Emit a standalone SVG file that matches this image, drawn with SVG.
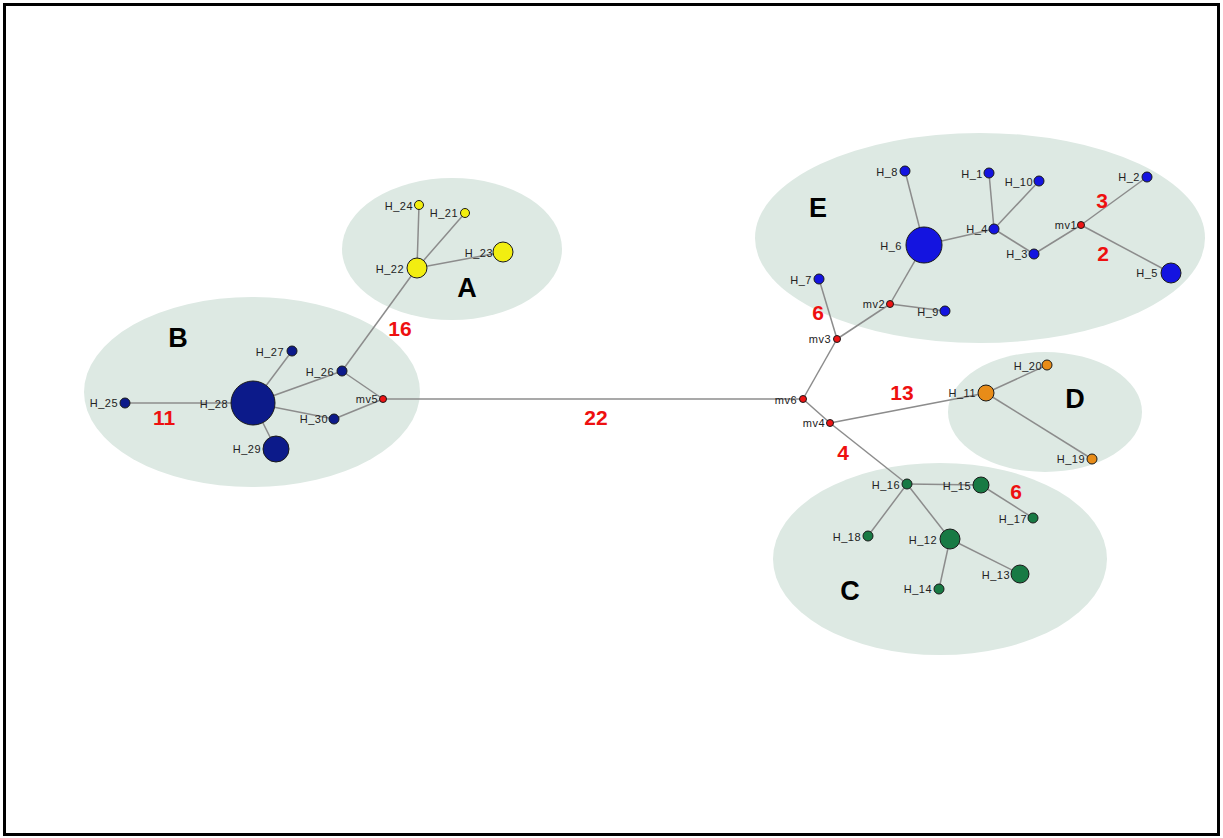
<svg xmlns="http://www.w3.org/2000/svg" width="1223" height="838" viewBox="0 0 1223 838">
<defs>
<style>
.cl{fill:#dde9e3;stroke:none}
.e{stroke:#8c8c8c;stroke-width:1.5;fill:none}
.n{stroke:#1a1a1a;stroke-width:1}
.bl{fill:#1414e0}
.nv{fill:#0c1a8a}
.ye{fill:#f2ee10}
.or{fill:#e88c18}
.gr{fill:#187a44}
.mv{fill:#ee1414}
.t{font-family:"Liberation Sans",Arial,sans-serif;font-size:11px;fill:#222;text-anchor:end;letter-spacing:0.5px}
.num{font-family:"Liberation Sans",Arial,sans-serif;font-size:21px;font-weight:bold;fill:#ee1010;text-anchor:middle}
.L{font-family:"Liberation Sans",Arial,sans-serif;font-size:27px;font-weight:bold;fill:#000;text-anchor:middle}
</style>
</defs>
<rect x="0" y="0" width="1223" height="838" fill="#fff"/>
<rect x="4.5" y="4.5" width="1214" height="830" fill="#fff" stroke="#000" stroke-width="3"/>
<g id="clusters">
<ellipse class="cl" cx="452" cy="249" rx="110" ry="71"/>
<ellipse class="cl" cx="252" cy="392" rx="168" ry="95"/>
<ellipse class="cl" cx="980" cy="238" rx="225" ry="105"/>
<ellipse class="cl" cx="1045" cy="412" rx="97" ry="60"/>
<ellipse class="cl" cx="940" cy="559" rx="167" ry="96"/>
</g>
<g id="connectors">
<line class="e" x1="125" y1="403" x2="253" y2="403"/>
<line class="e" x1="253" y1="403" x2="292" y2="351"/>
<line class="e" x1="253" y1="403" x2="342" y2="371"/>
<line class="e" x1="253" y1="403" x2="334" y2="419"/>
<line class="e" x1="253" y1="403" x2="276" y2="449"/>
<line class="e" x1="342" y1="371" x2="383" y2="399"/>
<line class="e" x1="334" y1="419" x2="383" y2="399"/>
<line class="e" x1="342" y1="371" x2="417" y2="268"/>
<line class="e" x1="417" y1="268" x2="419" y2="205"/>
<line class="e" x1="417" y1="268" x2="465" y2="213"/>
<line class="e" x1="417" y1="268" x2="503" y2="252"/>
<line class="e" x1="383" y1="399" x2="803" y2="399"/>
<line class="e" x1="803" y1="399" x2="837" y2="339"/>
<line class="e" x1="803" y1="399" x2="830" y2="423"/>
<line class="e" x1="837" y1="339" x2="819" y2="279"/>
<line class="e" x1="837" y1="339" x2="890" y2="304"/>
<line class="e" x1="890" y1="304" x2="945" y2="311"/>
<line class="e" x1="890" y1="304" x2="924" y2="245"/>
<line class="e" x1="924" y1="245" x2="905" y2="171"/>
<line class="e" x1="924" y1="245" x2="994" y2="229"/>
<line class="e" x1="994" y1="229" x2="989" y2="173"/>
<line class="e" x1="994" y1="229" x2="1039" y2="181"/>
<line class="e" x1="994" y1="229" x2="1034" y2="254"/>
<line class="e" x1="1034" y1="254" x2="1081" y2="225"/>
<line class="e" x1="1081" y1="225" x2="1147" y2="177"/>
<line class="e" x1="1081" y1="225" x2="1171" y2="273"/>
<line class="e" x1="830" y1="423" x2="986" y2="393"/>
<line class="e" x1="986" y1="393" x2="1047" y2="365"/>
<line class="e" x1="986" y1="393" x2="1092" y2="459"/>
<line class="e" x1="830" y1="423" x2="907" y2="484"/>
<line class="e" x1="907" y1="484" x2="981" y2="485"/>
<line class="e" x1="981" y1="485" x2="1033" y2="518"/>
<line class="e" x1="907" y1="484" x2="868" y2="536"/>
<line class="e" x1="907" y1="484" x2="950" y2="539"/>
<line class="e" x1="950" y1="539" x2="1020" y2="574"/>
<line class="e" x1="950" y1="539" x2="939" y2="589"/>
</g>
<g id="edge-labels">
<text class="num" x="400" y="336">16</text>
<text class="num" x="164" y="425">11</text>
<text class="num" x="596" y="425">22</text>
<text class="num" x="818" y="320">6</text>
<text class="num" x="1102" y="208">3</text>
<text class="num" x="1103" y="261">2</text>
<text class="num" x="902" y="400">13</text>
<text class="num" x="843" y="460">4</text>
<text class="num" x="1016" y="499">6</text>
</g>
<g id="cluster-labels">
<text class="L" x="467" y="297">A</text>
<text class="L" x="178" y="347">B</text>
<text class="L" x="850" y="600">C</text>
<text class="L" x="1075" y="408">D</text>
<text class="L" x="818" y="217">E</text>
</g>
<g id="H_25"><circle class="n nv" cx="125" cy="403" r="5"/><text class="t" x="118" y="407">H_25</text></g>
<g id="H_28"><circle class="n nv" cx="253" cy="403" r="22"/><text class="t" x="228" y="408">H_28</text></g>
<g id="H_29"><circle class="n nv" cx="276" cy="449" r="13"/><text class="t" x="261" y="453">H_29</text></g>
<g id="H_27"><circle class="n nv" cx="292" cy="351" r="5"/><text class="t" x="284" y="356">H_27</text></g>
<g id="H_26"><circle class="n nv" cx="342" cy="371" r="5"/><text class="t" x="334" y="376">H_26</text></g>
<g id="H_30"><circle class="n nv" cx="334" cy="419" r="5"/><text class="t" x="328" y="423">H_30</text></g>
<g id="mv5"><circle class="n mv" cx="383" cy="399" r="3.5"/><text class="t" x="378" y="403">mv5</text></g>
<g id="H_24"><circle class="n ye" cx="419" cy="205" r="4.5"/><text class="t" x="413" y="210">H_24</text></g>
<g id="H_21"><circle class="n ye" cx="465" cy="213" r="4.5"/><text class="t" x="458" y="217">H_21</text></g>
<g id="H_22"><circle class="n ye" cx="417" cy="268" r="10"/><text class="t" x="404" y="273">H_22</text></g>
<g id="H_23"><circle class="n ye" cx="503" cy="252" r="10"/><text class="t" x="493" y="257">H_23</text></g>
<g id="mv6"><circle class="n mv" cx="803" cy="399" r="3.5"/><text class="t" x="797" y="404">mv6</text></g>
<g id="mv3"><circle class="n mv" cx="837" cy="339" r="3.5"/><text class="t" x="831" y="343">mv3</text></g>
<g id="mv4"><circle class="n mv" cx="830" cy="423" r="3.5"/><text class="t" x="825" y="427">mv4</text></g>
<g id="mv2"><circle class="n mv" cx="890" cy="304" r="3.5"/><text class="t" x="885" y="308">mv2</text></g>
<g id="mv1"><circle class="n mv" cx="1081" cy="225" r="3.5"/><text class="t" x="1077" y="229">mv1</text></g>
<g id="H_7"><circle class="n bl" cx="819" cy="279" r="5"/><text class="t" x="812" y="284">H_7</text></g>
<g id="H_9"><circle class="n bl" cx="945" cy="311" r="5"/><text class="t" x="939" y="316">H_9</text></g>
<g id="H_6"><circle class="n bl" cx="924" cy="245" r="18"/><text class="t" x="902" y="250">H_6</text></g>
<g id="H_8"><circle class="n bl" cx="905" cy="171" r="5"/><text class="t" x="898" y="176">H_8</text></g>
<g id="H_4"><circle class="n bl" cx="994" cy="229" r="5"/><text class="t" x="988" y="233">H_4</text></g>
<g id="H_1"><circle class="n bl" cx="989" cy="173" r="5"/><text class="t" x="983" y="178">H_1</text></g>
<g id="H_10"><circle class="n bl" cx="1039" cy="181" r="5"/><text class="t" x="1033" y="186">H_10</text></g>
<g id="H_3"><circle class="n bl" cx="1034" cy="254" r="5"/><text class="t" x="1028" y="258">H_3</text></g>
<g id="H_2"><circle class="n bl" cx="1147" cy="177" r="5"/><text class="t" x="1140" y="181">H_2</text></g>
<g id="H_5"><circle class="n bl" cx="1171" cy="273" r="10"/><text class="t" x="1158" y="277">H_5</text></g>
<g id="H_11"><circle class="n or" cx="986" cy="393" r="8"/><text class="t" x="976" y="397">H_11</text></g>
<g id="H_20"><circle class="n or" cx="1047" cy="365" r="5"/><text class="t" x="1042" y="370">H_20</text></g>
<g id="H_19"><circle class="n or" cx="1092" cy="459" r="5"/><text class="t" x="1085" y="463">H_19</text></g>
<g id="H_16"><circle class="n gr" cx="907" cy="484" r="5"/><text class="t" x="900" y="489">H_16</text></g>
<g id="H_15"><circle class="n gr" cx="981" cy="485" r="8"/><text class="t" x="971" y="490">H_15</text></g>
<g id="H_17"><circle class="n gr" cx="1033" cy="518" r="5"/><text class="t" x="1027" y="523">H_17</text></g>
<g id="H_18"><circle class="n gr" cx="868" cy="536" r="5"/><text class="t" x="861" y="541">H_18</text></g>
<g id="H_12"><circle class="n gr" cx="950" cy="539" r="10"/><text class="t" x="937" y="544">H_12</text></g>
<g id="H_13"><circle class="n gr" cx="1020" cy="574" r="9"/><text class="t" x="1010" y="579">H_13</text></g>
<g id="H_14"><circle class="n gr" cx="939" cy="589" r="5"/><text class="t" x="932" y="593">H_14</text></g>
</svg>
